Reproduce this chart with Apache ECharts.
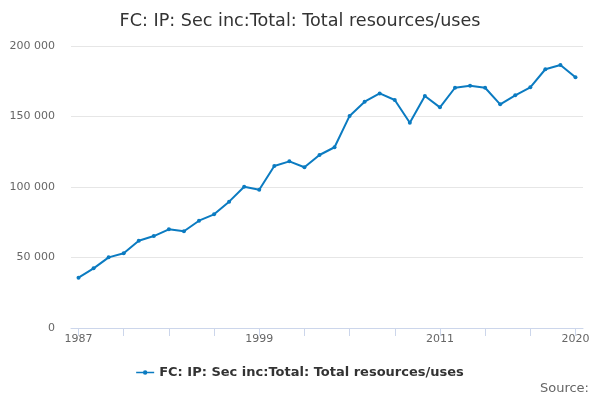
<!DOCTYPE html>
<html>
<head>
<meta charset="utf-8">
<script src="https://cdn.jsdelivr.net/npm/echarts@6/dist/echarts.min.js"></script>
<style>
html, body { margin: 0; padding: 0; background: #fff; }
#main { width: 600px; height: 400px; }
</style>
</head>
<body>
<div id="main"></div>
<script>
var years = [];
for (var y = 1987; y <= 2020; y++) years.push(String(y));

var seriesName = 'FC: IP: Sec inc:Total: Total resources/uses';
var values = [35700, 42300, 50100, 53000, 61900, 65200, 70000, 68600, 76100, 80600,
              89600, 100200, 98100, 114900, 118200, 114000, 122700, 128200, 150400, 160500,
              166400, 161700, 145600, 164500, 156500, 170400, 171800, 170400, 158600, 165000,
              170700, 183500, 186500, 177800];
var yTicks = [0, 50000, 100000, 150000, 200000];

var myChart = echarts.init(document.getElementById('main'));

var option = {
    textStyle: { fontFamily: 'DejaVu Sans' },
    title: {
        text: 'FC: IP: Sec inc:Total: Total resources/uses',
        left: 'center',
        top: 7,
        textStyle: { fontSize: 17.6, fontWeight: 'normal', color: '#333', fontFamily: 'DejaVu Sans' }
    },
    graphic: [{
        type: 'text',
        right: 11,
        top: 382,
        style: { text: 'Source:', fill: '#666', font: '13px DejaVu Sans' }
    }],
    legend: {
        data: [{
            name: seriesName,
            icon: 'path://M0 2.2h20v1.6H0z M10 0.5a2.5 2.5 0 1 1 -0.01 0z'
        }],
        bottom: 16,
        left: 'center',
        itemWidth: 18,
        itemHeight: 6,
        textStyle: { fontSize: 13, fontWeight: 'bold', color: '#333' }
    },
    grid: { left: 71, right: 17, top: 46, bottom: 72 },
    xAxis: {
        type: 'category',
        data: years,
        boundaryGap: true,
        axisLine: { lineStyle: { color: '#ccd6eb' } },
        axisTick: {
            show: true,
            alignWithLabel: true,
            length: 8,
            lineStyle: { color: '#ccd6eb' },
            interval: function (i) { return i % 3 === 0; }
        },
        axisLabel: {
            color: '#666',
            fontSize: 11,
            margin: 6,
            interval: function (i) { return i % 12 === 0 || i === years.length - 1; }
        }
    },
    yAxis: {
        type: 'value',
        min: yTicks[0],
        max: yTicks[yTicks.length - 1],
        interval: 50000,
        axisLine: { show: false },
        axisTick: { show: false },
        splitLine: { lineStyle: { color: '#e6e6e6' } },
        axisLabel: {
            color: '#666',
            fontSize: 11,
            margin: 16,
            formatter: function (v) { return String(v).replace(/\B(?=(\d{3})+(?!\d))/g, ' '); }
        }
    },
    series: [{
        name: seriesName,
        type: 'line',
        data: values,
        symbol: 'circle',
        symbolSize: 4,
        lineStyle: { width: 2, color: '#0b7bc1' },
        itemStyle: { color: '#0b7bc1' }
    }]
};

myChart.setOption(option);
</script>
</body>
</html>
